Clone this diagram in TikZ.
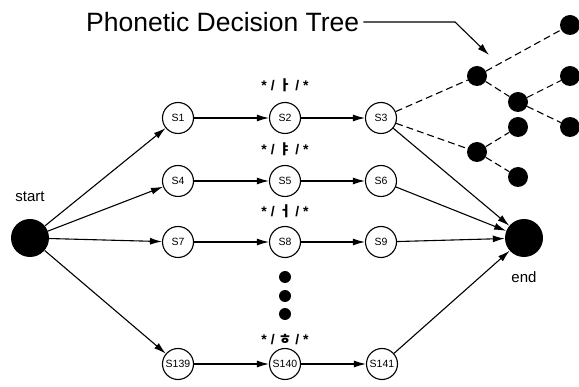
\documentclass[tikz,border=0pt]{standalone}
\usepackage{fontspec}
\setmainfont{Liberation Sans}
\newfontfamily\cjk{Noto Sans CJK KR}
\usetikzlibrary{arrows.meta}
\tikzset{
  state/.style={circle, draw, line width=1.1pt, minimum size=31pt, inner sep=0pt, font=\fontsize{10.5}{12}\selectfont},
  bigdot/.style={circle, fill, minimum size=38pt, inner sep=0pt},
  leaf/.style={circle, fill, minimum size=20pt, inner sep=0pt},
  ell/.style={circle, fill, minimum size=12pt, inner sep=0pt},
  arc/.style={line width=1.1pt, -{Latex[length=12pt,width=7pt]}},
  branch/.style={line width=1.1pt, dash pattern=on 7pt off 4pt},
  phone/.style={font=\fontsize{14}{16}\selectfont\bfseries, inner sep=0pt},
  caption/.style={font=\fontsize{15}{18}\selectfont, inner sep=0pt}
}
\begin{document}
\begin{tikzpicture}[x=1pt, y=-1pt]
\useasboundingbox (0,0) rectangle (579,387);

% start and end
\node[bigdot] (start) at (30,238) {};
\node[caption] (startlbl) at (30,197) {start};
\node[bigdot] (end) at (524,238) {};
\node[caption] (endlbl) at (524,277) {end};

% states
\node[state] (s1) at (178,118) {S1};
\node[state] (s2) at (285,118) {S2};
\node[state] (s3) at (381,118) {S3};
\node[state] (s4) at (178,181) {S4};
\node[state] (s5) at (285,181) {S5};
\node[state] (s6) at (381,181) {S6};
\node[state] (s7) at (178,242) {S7};
\node[state] (s8) at (285,242) {S8};
\node[state] (s9) at (381,242) {S9};
\node[state] (s139) at (178,364) {S139};
\node[state] (s140) at (285,364) {S140};
\node[state] (s141) at (382,364) {S141};

% phone labels
\node[phone] (p2) at (285,85) {* / {\cjk ㅏ} / *};
\node[phone] (p5) at (285,149) {* / {\cjk ㅑ} / *};
\node[phone] (p8) at (285,211) {* / {\cjk ㅓ} / *};
\node[phone] (p140) at (285,340) {* / {\cjk ㅎ} / *};

% ellipsis dots
\node[ell] (e1) at (285,277) {};
\node[ell] (e2) at (285,296) {};
\node[ell] (e3) at (285,314) {};

% transitions
\foreach \a in {s1,s4,s7,s139} \draw[arc] (start) -- (\a);
\draw[arc] (s1) -- (s2); \draw[arc] (s2) -- (s3);
\draw[arc] (s4) -- (s5); \draw[arc] (s5) -- (s6);
\draw[arc] (s7) -- (s8); \draw[arc] (s8) -- (s9);
\draw[arc] (s139) -- (s140); \draw[arc] (s140) -- (s141);
\foreach \a in {s3,s6,s9,s141} \draw[arc] (\a) -- (end);

% phonetic decision tree
\node[leaf] (t1) at (477,76) {};
\node[leaf] (t2) at (477,152) {};
\node[leaf] (t11) at (570,25) {};
\node[leaf] (t12) at (518,102) {};
\node[leaf] (t121) at (570,76) {};
\node[leaf] (t122) at (570,127) {};
\node[leaf] (t21) at (518,127) {};
\node[leaf] (t22) at (518,177) {};
\draw[branch] (s3) -- (t1);
\draw[branch] (s3) -- (t2);
\draw[branch] (t1) -- (t11);
\draw[branch] (t1) -- (t12);
\draw[branch] (t12) -- (t121);
\draw[branch] (t12) -- (t122);
\draw[branch] (t2) -- (t21);
\draw[branch] (t2) -- (t22);

% title with pointer
\node[font=\fontsize{26.5}{30}\selectfont, inner sep=0pt, anchor=west] (title) at (86,22) {Phonetic Decision Tree};
\coordinate (bend) at (455,22);
\coordinate (tip) at (489,55);
\draw[line width=1.1pt, -{Latex[length=12pt,width=7pt]}] ([xshift=4pt]title.east) -- (bend) -- (tip);
\end{tikzpicture}
\end{document}
